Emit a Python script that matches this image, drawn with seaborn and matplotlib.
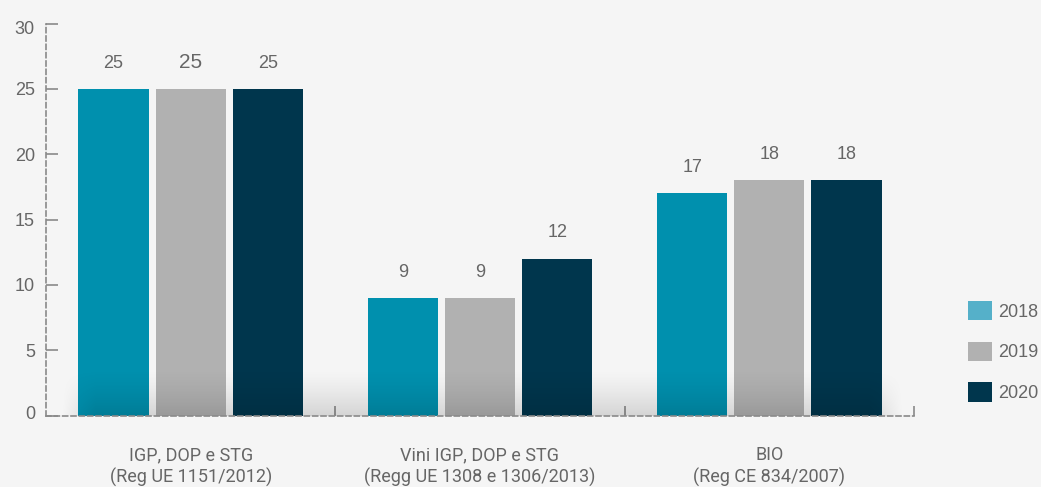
import numpy as np
import pandas as pd
import matplotlib
matplotlib.use("Agg")
import matplotlib.pyplot as plt
import matplotlib.transforms as mtransforms
from matplotlib.patches import Patch
import seaborn as sns

categories = ["IGP, DOP e STG\n(Reg UE 1151/2012)",
              "Vini IGP, DOP e STG\n(Regg UE 1308 e 1306/2013)",
              "BIO\n(Reg CE 834/2007)"]
years = ["2018", "2019", "2020"]
v2018 = [25, 9, 17]
v2019 = [25, 9, 18]
v2020 = [25, 12, 18]
yticks = [0, 5, 10, 15, 20, 25, 30]

bar_colors = ["#0090ae", "#b1b1b1", "#00364d"]
legend_colors = ["#55b0c9", "#b1b1b1", "#00364d"]
bg = "#f5f5f5"
txt = "#666666"
axc = "#8a8a8a"

rows = []
for yr, vals in zip(years, [v2018, v2019, v2020]):
    for c, v in zip(categories, vals):
        rows.append({"cat": c, "year": yr, "val": v})
df = pd.DataFrame(rows)

sns.set_theme(style="white")
plt.rcParams['font.family'] = ['Liberation Sans', 'DejaVu Sans']
narrow = ['Roboto', 'DejaVu Sans']

fig = plt.figure(figsize=(10.41, 4.87), dpi=100, facecolor=bg)
ax = fig.add_axes([46/1041, 1-415.7/487, (914-46)/1041, (415.7-23.5)/487])
ax.set_facecolor(bg)

sns.barplot(data=df, x="cat", y="val", hue="year", palette=bar_colors,
            width=0.8, gap=0.09, ax=ax, legend=False, saturation=1,
            linewidth=0, errorbar=None)

for i, cont in enumerate(ax.containers):
    labs = ax.bar_label(cont, padding=12.5, color=txt, fontsize=13)
    if i == 1:
        labs[0].set_fontsize(15)

ax.set_xlim(-0.5, 2.5)
ax.set_ylim(0, 30)
ax.set_xlabel("")
ax.set_ylabel("")

# shadow gradient at base
n = 100
m = 200
grad = np.zeros((n, m, 4))
alpha_v = np.linspace(0.24, 0.0, n) ** 1.4
xs = np.linspace(0, 1, m)
alpha_h = np.clip(np.minimum(xs / 0.04, (1 - xs) / 0.04), 0, 1)
grad[:, :, 3] = alpha_v[:, None] * alpha_h[None, :]
ax.imshow(grad, extent=(-0.45, 2.47, 0, 3.6), origin="lower", aspect="auto",
          zorder=3, interpolation="bilinear")
ax.set_xlim(-0.5, 2.5)
ax.set_ylim(0, 30)

for s in ["top", "right"]:
    ax.spines[s].set_visible(False)
for s in ["left", "bottom"]:
    ax.spines[s].set_visible(True)
    ax.spines[s].set_color(axc)
    ax.spines[s].set_linewidth(1.2)
    ax.spines[s].set_linestyle((0, (3, 2)))
    ax.spines[s].set_zorder(4)

ax.set_yticks(yticks)
ax.tick_params(axis="y", direction="in", length=8.5, width=1.2, color=axc,
               labelcolor=txt, labelsize=13, pad=8, left=True)
ylabs = ax.get_yticklabels()
down = mtransforms.ScaledTranslation(0, -2.6 / 72, fig.dpi_scale_trans)
up = mtransforms.ScaledTranslation(0, 2.6 / 72, fig.dpi_scale_trans)
ylabs[-1].set_transform(ylabs[-1].get_transform() + down)
ylabs[0].set_transform(ylabs[0].get_transform() + up)

ax.set_xticks(range(len(categories)))
ax.set_xticklabels(categories, color=txt, fontsize=13, linespacing=1.25,
                   family=narrow)
ax.tick_params(axis="x", which="major", length=0, pad=22)
ax.set_xticks([0.5, 1.5, 2.5], minor=True)
ax.tick_params(axis="x", which="minor", direction="in", length=7, width=1.2,
               color=axc, bottom=True)

handles = [Patch(facecolor=c, edgecolor="none") for c in legend_colors]
fig.legend(handles, years, loc="upper left", bbox_to_anchor=(968/1041, 1-301/487),
           frameon=False, fontsize=13, labelcolor=txt, handlelength=1.33,
           handleheight=1.28, handletextpad=0.33, labelspacing=1.15,
           borderpad=0, borderaxespad=0)

fig.savefig("out.png", dpi=100, facecolor=bg)
